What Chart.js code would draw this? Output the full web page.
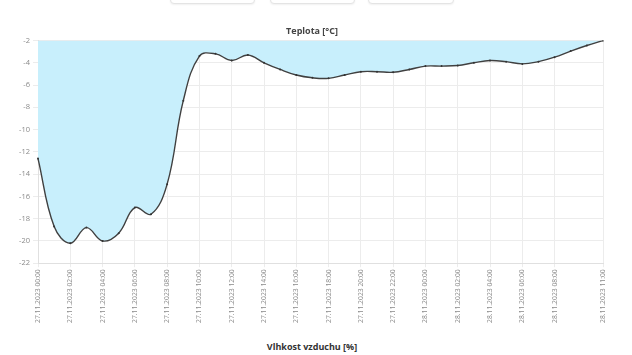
<!DOCTYPE html>
<html>
<head>
<meta charset="utf-8">
<script src="https://cdn.jsdelivr.net/npm/chart.js@4"></script>
<style>
  html, body { margin: 0; padding: 0; background: #fff; width: 632px; height: 355px; overflow: hidden; font-family: "Open Sans", sans-serif; }
  .btn { position: absolute; top: -30px; height: 32px; border: 1px solid #e4e4e4; border-radius: 4px; background: #fff; box-shadow: 0 1px 2px rgba(0,0,0,0.06); }
  #wrap { position: absolute; left: 0; top: 33px; width: 632px; height: 292px; }
  .ttl { position: absolute; left: 0; width: 624px; text-align: center; font: bold 9px "Open Sans", sans-serif; color: #444; }
  #title1 { top: 24px; }
  #title2 { top: 340px; color: #333; }
</style>
</head>
<body>
<div class="btn" style="left:170px;width:83px"></div>
<div class="btn" style="left:270px;width:83px"></div>
<div class="btn" style="left:368px;width:84px"></div>
<div id="wrap"><canvas id="c"></canvas></div>
<div class="ttl" id="title1"></div>
<div class="ttl" id="title2"></div>
<script>
const labels = [
  "27.11.2023 00:00","27.11.2023 01:00","27.11.2023 02:00","27.11.2023 03:00","27.11.2023 04:00","27.11.2023 05:00",
  "27.11.2023 06:00","27.11.2023 07:00","27.11.2023 08:00","27.11.2023 09:00","27.11.2023 10:00","27.11.2023 11:00",
  "27.11.2023 12:00","27.11.2023 13:00","27.11.2023 14:00","27.11.2023 15:00","27.11.2023 16:00","27.11.2023 17:00",
  "27.11.2023 18:00","27.11.2023 19:00","27.11.2023 20:00","27.11.2023 21:00","27.11.2023 22:00","27.11.2023 23:00",
  "28.11.2023 00:00","28.11.2023 01:00","28.11.2023 02:00","28.11.2023 03:00","28.11.2023 04:00","28.11.2023 05:00",
  "28.11.2023 06:00","28.11.2023 07:00","28.11.2023 08:00","28.11.2023 09:00","28.11.2023 10:00","28.11.2023 11:00"
];
const temperature = [
  -12.6, -18.7, -20.2, -18.8, -20.0, -19.3,
  -17.0, -17.6, -14.9, -7.4, -3.4, -3.2,
  -3.8, -3.3, -4.0, -4.6, -5.1, -5.35,
  -5.4, -5.1, -4.8, -4.8, -4.85, -4.6,
  -4.3, -4.3, -4.25, -4.0, -3.8, -3.9,
  -4.1, -3.9, -3.5, -2.95, -2.45, -2.0
];
const yTicks = { min: -22, max: -2, step: 2 };
const chartTitle = "Teplota [°C]";
const nextChartTitle = "Vlhkost vzduchu [%]";

document.getElementById('title1').textContent = chartTitle;
document.getElementById('title2').textContent = nextChartTitle;

new Chart(document.getElementById('c'), {
  type: 'line',
  data: {
    labels: labels,
    datasets: [{
      data: temperature,
      borderColor: '#404040',
      borderWidth: 1.4,
      backgroundColor: 'rgb(200,239,252)',
      fill: 'end',
      tension: 0.4,
      pointRadius: 1,
      pointBackgroundColor: '#333',
      pointBorderColor: '#333',
      pointBorderWidth: 0
    }]
  },
  options: {
    responsive: true,
    maintainAspectRatio: false,
    animation: false,
    layout: { padding: { left: 0, right: 29, top: 0, bottom: 0 } },
    plugins: {
      legend: { display: false },
      tooltip: { enabled: false },
      title: { display: false }
    },
    scales: {
      x: {
        grid: { color: '#ececec', tickLength: 4 },
        border: { color: '#e0e0e0' },
        ticks: {
          autoSkip: false,
          maxRotation: 90,
          minRotation: 90,
          color: '#8a8a8a',
          font: { family: 'Open Sans', size: 6.8 },
          padding: 2,
          callback: function(v, i) {
            const n = labels.length;
            return ((i % 2 === 0 && i < n - 2) || i === n - 1) ? labels[i] : null;
          }
        }
      },
      y: {
        min: yTicks.min,
        max: yTicks.max,
        afterFit: function(s) { s.width = 38; },
        grid: { color: '#ececec', tickLength: 5 },
        border: { color: '#e0e0e0' },
        ticks: {
          stepSize: yTicks.step,
          color: '#8a8a8a',
          font: { family: 'Open Sans', size: 7.5 },
          padding: 3
        }
      }
    }
  }
});
</script>
</body>
</html>
